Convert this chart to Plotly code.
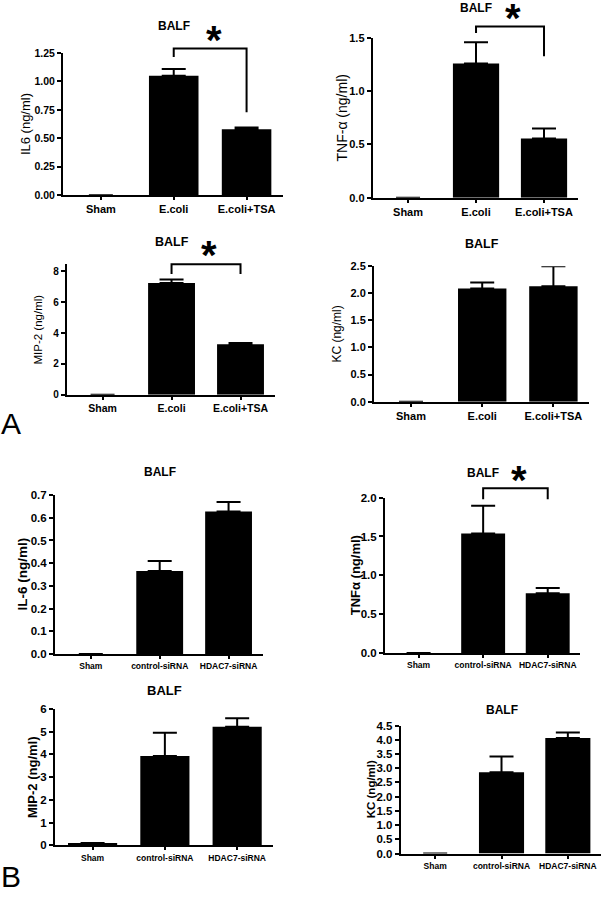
import plotly.graph_objects as go

# ---------------- data ----------------
cats_A = ["Sham", "E.coli", "E.coli+TSA"]
cats_B = ["Sham", "control-siRNA", "HDAC7-siRNA"]

il6_A = [0.0, 1.05, 0.58]
il6_A_err = [0.0, 0.06, 0.015]
tnf_A = [0.0, 1.26, 0.555]
tnf_A_err = [0.0, 0.20, 0.095]
mip2_A = [0.0, 7.25, 3.28]
mip2_A_err = [0.0, 0.22, 0.07]
kc_A = [0.0, 2.09, 2.13]
kc_A_err = [0.0, 0.11, 0.37]

il6_B = [0.0, 0.365, 0.628]
il6_B_err = [0.0, 0.045, 0.042]
tnf_B = [0.0, 1.54, 0.77]
tnf_B_err = [0.0, 0.355, 0.067]
mip2_B = [0.1, 3.93, 5.21]
mip2_B_err = [0.0, 1.02, 0.37]
kc_B = [0.0, 2.86, 4.06]
kc_B_err = [0.0, 0.555, 0.20]

y_titles = ["IL6 (ng/ml)", "TNF-\u03b1 (ng/ml)", "MIP-2 (ng/ml)", "KC (ng/ml)",
            "IL-6 (ng/ml)", "TNF\u03b1 (ng/ml)", "MIP-2 (ng/ml)", "KC (ng/ml)"]
y_max = [1.25, 1.5, 8.5, 2.5, 0.7, 2.0, 6.0, 4.5]
y_ticks = [[0, 0.25, 0.5, 0.75, 1.0, 1.25], [0, 0.5, 1.0, 1.5], [0, 2, 4, 6, 8],
           [0, 0.5, 1.0, 1.5, 2.0, 2.5], [0, 0.1, 0.2, 0.3, 0.4, 0.5, 0.6, 0.7],
           [0, 0.5, 1.0, 1.5, 2.0], [0, 1, 2, 3, 4, 5, 6],
           [0, 0.5, 1.0, 1.5, 2.0, 2.5, 3.0, 3.5, 4.0, 4.5]]
y_fmt = [".2f", ".1f", "d", ".1f", ".1f", ".1f", "d", ".1f"]

# significance brackets: (panel index, left cat, right cat, left bottom, right bottom, top) in data units
brackets = [
    (0, 1, 2, 1.215, 0.729, 1.291),
    (1, 1, 2, 1.546, 1.327, 1.607),
    (2, 1, 2, 7.83, 7.83, 8.47),
    (5, 1, 2, 1.98, 1.98, 2.12),
]

series = [(cats_A, il6_A, il6_A_err), (cats_A, tnf_A, tnf_A_err), (cats_A, mip2_A, mip2_A_err),
          (cats_A, kc_A, kc_A_err), (cats_B, il6_B, il6_B_err), (cats_B, tnf_B, tnf_B_err),
          (cats_B, mip2_B, mip2_B_err), (cats_B, kc_B, kc_B_err)]

# ---------------- layout (pixel boxes) ----------------
W, H = 602, 900
# left, right, top, bottom of each plot area in px
boxes = [
    (63, 283, 47.7, 191.7),
    (372.7, 578, 32.3, 194.3),
    (66.7, 275, 261.2, 394),
    (374, 589, 263.7, 401),
    (55, 263, 495.7, 656.7),
    (385, 580, 498.3, 655.7),
    (55, 273.3, 712.3, 850.7),
    (400.7, 601, 729.3, 859),
]
XR = [-0.52, 2.5]
tick_fs = [10.5, 11, 10, 11, 11.5, 11.5, 11.5, 11.5]
xlab_fs = [11, 11, 10.5, 11, 8.5, 8.5, 8.5, 8.5]
balf_fs = [12, 12, 12.5, 12.5, 12, 12, 13, 12]
ytit_fs = [13, 14, 11.5, 12, 13.5, 13, 13, 11.5]
ytit_bold = [False, False, False, False, True, True, True, True]
ytit_shift = [-38, -31, -28.4, -37.3, -32, -30, -23, -30]
balf_shift = [26.7, 29.6, 22, 22, 23, 25, 18.6, 16]
star_shift = [-11.3, -3.7, -14.8, 0, 0, -6.4, 0, 0]

FONT = "Liberation Sans"

fig = go.Figure()
layout = dict(width=W, height=H, margin=dict(l=0, r=0, t=0, b=0),
              paper_bgcolor="white", plot_bgcolor="white", showlegend=False,
              font=dict(family=FONT, color="black"))
annotations = []
shapes = []

for i, ((cats, vals, errs), (l, r, t, b)) in enumerate(zip(series, boxes)):
    k = i + 1
    xa = "x" if k == 1 else f"x{k}"
    ya = "y" if k == 1 else f"y{k}"
    fig.add_trace(go.Bar(
        x=cats, y=vals, width=0.68, xaxis=xa, yaxis=ya,
        marker=dict(color="black", line=dict(width=0)),
        error_y=dict(type="data", array=errs, arrayminus=[0] * len(errs), symmetric=False,
                     color="black", thickness=2, width=12),
    ))
    xlab_font = dict(family=FONT, size=xlab_fs[i], color="black", weight="bold")
    layout["xaxis" if k == 1 else f"xaxis{k}"] = dict(
        domain=[l / W, r / W], anchor=ya, type="category", range=XR, tickangle=0,
        showline=True, linecolor="black", linewidth=2, ticks="outside", ticklen=3,
        tickwidth=2, tickcolor="black", tickfont=xlab_font, showgrid=False, zeroline=False)
    layout["yaxis" if k == 1 else f"yaxis{k}"] = dict(
        domain=[1 - b / H, 1 - t / H], anchor=xa, range=[0, y_max[i]],
        tickvals=y_ticks[i], tickformat=y_fmt[i],
        showline=True, linecolor="black", linewidth=2, ticks="outside", ticklen=4,
        tickwidth=2, tickcolor="black",
        tickfont=dict(family=FONT, size=tick_fs[i], color="black", weight="bold"),
        showgrid=False, zeroline=False)
    xref_dom = f"{xa} domain"
    yref_dom = f"{ya} domain"
    # BALF title
    annotations.append(dict(text="BALF", x=1, xref=xa, y=1, yref=yref_dom, yshift=balf_shift[i],
                            showarrow=False, xanchor="center", yanchor="middle",
                            font=dict(family=FONT, size=balf_fs[i], color="black", weight="bold")))
    # y title
    annotations.append(dict(text=y_titles[i], x=0, xref=xref_dom, xshift=ytit_shift[i],
                            y=0.5, yref=yref_dom, textangle=-90, showarrow=False,
                            xanchor="center", yanchor="middle",
                            font=dict(family=FONT, size=ytit_fs[i], color="black",
                                      weight="bold" if ytit_bold[i] else "normal")))

# brackets + stars
for (pi, c0, c1, lb, rb, top) in brackets:
    k = pi + 1
    xa = "x" if k == 1 else f"x{k}"
    ya = "y" if k == 1 else f"y{k}"
    fx = lambda v: (v - XR[0]) / (XR[1] - XR[0])
    fy = lambda v: v / y_max[pi]
    path = (f"M {fx(c0)} {fy(lb)} L {fx(c0)} {fy(top)} L {fx(c1)} {fy(top)} L {fx(c1)} {fy(rb)}")
    shapes.append(dict(type="path", path=path, xref=f"{xa} domain", yref=f"{ya} domain",
                       line=dict(color="black", width=2)))
    annotations.append(dict(text="*", x=(c0 + c1) / 2 + 0.05, xref=xa, y=1, yref=f"{ya} domain",
                            yshift=star_shift[pi], showarrow=False, xanchor="center",
                            yanchor="bottom",
                            font=dict(family=FONT, size=40, color="black", weight="bold")))

# panel letters
annotations.append(dict(text="A", x=11 / W, y=1 - 423 / H, xref="paper", yref="paper",
                        showarrow=False, xanchor="center", yanchor="middle",
                        font=dict(family=FONT, size=30, color="black")))
annotations.append(dict(text="B", x=11 / W, y=1 - 882 / H, xref="paper", yref="paper",
                        showarrow=False, xanchor="center", yanchor="middle",
                        font=dict(family=FONT, size=30, color="black")))

layout["annotations"] = annotations
layout["shapes"] = shapes
fig.update_layout(**layout)
fig.write_html("out.html", config={"displayModeBar": False},
               post_script="document.body.style.margin='0px';document.body.style.overflow='hidden';")
